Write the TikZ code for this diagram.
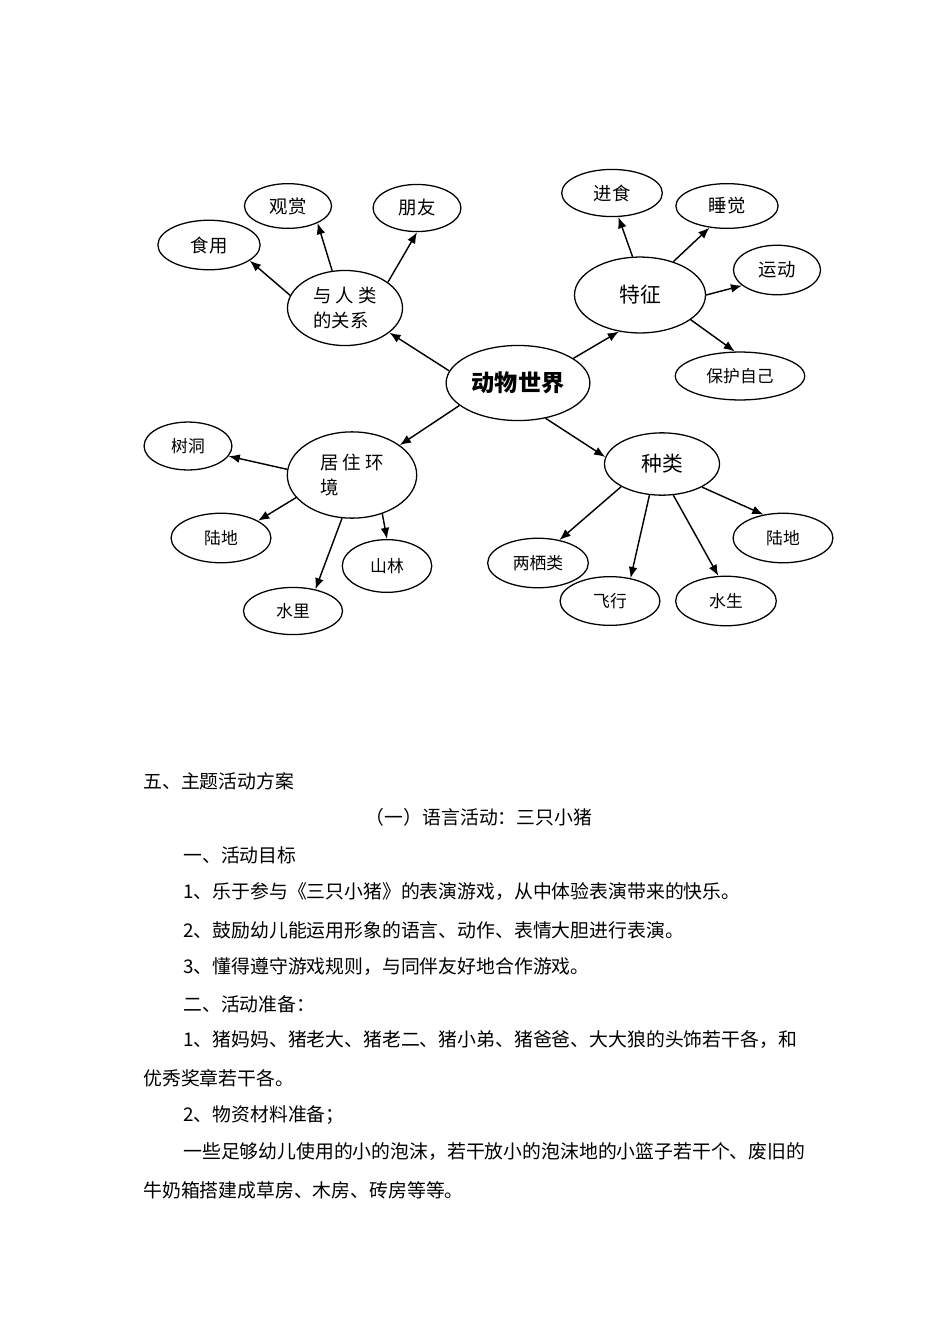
\documentclass[tikz,border=0pt]{standalone}
\usepackage{fontspec}
\setmainfont{Noto Sans CJK SC}
\usetikzlibrary{arrows.meta,shapes.geometric}
\tikzset{
  >={Latex[length=7pt,width=5.5pt]},
  oval/.style={ellipse,draw,line width=0.8pt,inner sep=0pt,align=center},
  leaf/.style={oval,font=\fontsize{10.5}{12}\selectfont},
  arrow/.style={->,line width=0.9pt},
  para/.style={anchor=west,inner sep=0pt,font=\fontsize{11.8}{14}\selectfont},
}

\begin{document}
\begin{tikzpicture}[x=0.626pt,y=-0.626pt]
  \path[use as bounding box,fill=white] (0,0) rectangle (950,1344);
  % 中心与四个分支
  \node[oval,minimum width=90pt,minimum height=47pt,font=\bfseries\fontsize{14.5}{17}\selectfont] (world) at (518,383) {动物世界};
  \node[oval,minimum width=72pt,minimum height=47pt,font=\fontsize{11.5}{16}\selectfont,align=left] (rel) at (345,308) {与\ 人\ 类\\的关系};
  \node[oval,minimum width=82pt,minimum height=47.5pt,font=\fontsize{13}{15}\selectfont] (feat) at (640,295) {特征};
  \node[oval,minimum width=81pt,minimum height=54pt,font=\fontsize{11.5}{16}\selectfont,align=left] (home) at (352,475) {居\ 住\ 环\\境};
  \node[oval,minimum width=72pt,minimum height=39pt,font=\fontsize{13}{15}\selectfont] (kind) at (662,464) {种类};
  % 与人类的关系
  \node[leaf,minimum width=64pt,minimum height=31pt,font=\fontsize{11.5}{13}\selectfont] (eat) at (209,245) {食用};
  \node[leaf,minimum width=54.5pt,minimum height=28pt,font=\fontsize{11.5}{13}\selectfont] (watch) at (288,206) {观赏};
  \node[leaf,minimum width=55pt,minimum height=29.5pt,font=\fontsize{11.5}{13}\selectfont] (friend) at (417,208) {朋友};
  % 特征
  \node[leaf,minimum width=63pt,minimum height=29.5pt,font=\fontsize{11.5}{13}\selectfont] (feed) at (612,193) {进食};
  \node[leaf,minimum width=64pt,minimum height=28pt,font=\fontsize{11.5}{13}\selectfont] (sleep) at (727,206) {睡觉};
  \node[leaf,minimum width=54.5pt,minimum height=31pt,font=\fontsize{11.5}{13}\selectfont] (move) at (777,270) {运动};
  \node[leaf,minimum width=81pt,minimum height=30pt] (protect) at (740,376) {保护自己};
  % 居住环境
  \node[leaf,minimum width=55pt,minimum height=30pt] (hole) at (188,446) {树洞};
  \node[leaf,minimum width=62.5pt,minimum height=31pt] (land) at (221,538) {陆地};
  \node[leaf,minimum width=56pt,minimum height=33pt] (forest) at (387,566) {山林};
  \node[leaf,minimum width=62pt,minimum height=29.5pt] (water) at (293,611) {水里};
  % 种类
  \node[leaf,minimum width=63pt,minimum height=31pt] (amph) at (538,563) {两栖类};
  \node[leaf,minimum width=62.5pt,minimum height=30.5pt] (fly) at (610,601) {飞行};
  \node[leaf,minimum width=63pt,minimum height=31pt] (aqua) at (726,601) {水生};
  \node[leaf,minimum width=62.5pt,minimum height=31pt] (landr) at (783,538) {陆地};

  \draw[arrow] (world.170) -- (rel.-29);
  \draw[arrow] (world.24) -- (feat.-120);
  \draw[arrow] (world.201) -- (home.32);
  \draw[arrow] (world.-52) -- (kind.173);
  \draw[arrow] (rel.167) -- (eat.-21);
  \draw[arrow] (rel.109) -- (watch.-30);
  \draw[arrow] (rel.31) -- (friend.-90);
  \draw[arrow] (feat.101) -- (feed.-75);
  \draw[arrow] (feat.45) -- (sleep.-129);
  \draw[arrow] (feat.0) -- (move.204);
  \draw[arrow] (feat.-26) -- (protect.102);
  \draw[arrow] (home.175) -- (hole.-14);
  \draw[arrow] (home.202) -- (land.25);
  \draw[arrow] (home.-103) -- (water.44);
  \draw[arrow] (home.-52) -- (forest.90);
  \draw[arrow] (kind.209) -- (amph.47);
  \draw[arrow] (kind.-112) -- (fly.48);
  \draw[arrow] (kind.-70) -- (aqua.107);
  \draw[arrow] (kind.-30) -- (landr.130);

  % 正文
  \node[para] (p1) at (143,781) {五、主题活动方案};
  \node[para,anchor=center] (p2) at (479,817) {（一）语言活动：三只小猪};
  \node[para] (p3) at (183,855) {一、活动目标};
  \node[para] (p4) at (183,892) {1、乐于参与《三只小猪》的表演游戏，从中体验表演带来的快乐。};
  \node[para] (p5) at (183,930) {2、鼓励幼儿能运用形象的语言、动作、表情大胆进行表演。};
  \node[para] (p6) at (183,967) {3、懂得遵守游戏规则，与同伴友好地合作游戏。};
  \node[para] (p7) at (183,1004) {二、活动准备：};
  \node[para] (p8) at (183,1040) {1、猪妈妈、猪老大、猪老二、猪小弟、猪爸爸、大大狼的头饰若干各，和};
  \node[para] (p9) at (143,1078) {优秀奖章若干各。};
  \node[para] (p10) at (183,1115) {2、物资材料准备；};
  \node[para] (p11) at (183,1152) {一些足够幼儿使用的小的泡沫，若干放小的泡沫地的小篮子若干个、废旧的};
  \node[para] (p12) at (143,1190) {牛奶箱搭建成草房、木房、砖房等等。};
\end{tikzpicture}
\end{document}
